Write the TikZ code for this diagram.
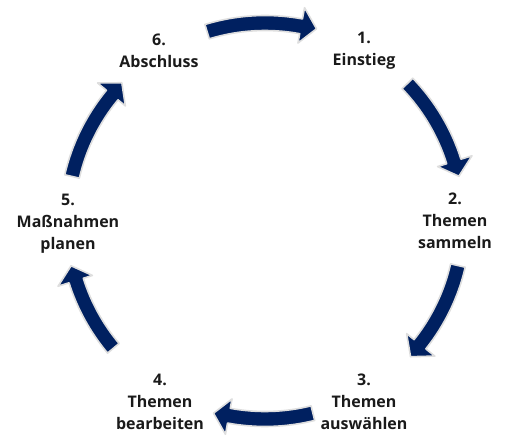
\documentclass[tikz,border=0pt]{standalone}
\usepackage{fontspec}
\setmainfont{Open Sans}
\usepackage{tikz}
\usetikzlibrary{positioning}

\definecolor{navy}{HTML}{002060}
\definecolor{labelgray}{HTML}{1A1A1A}

% curved arrow on the circle: tail angle, tip angle
\newcommand{\cyclearrow}[2]{%
  \filldraw[bigarrow] (#1:205.5) arc[start angle=#1, end angle=#2+4.5, radius=205.5]
    -- (#2+4.5:217) -- (#2:199) -- (#2+4.5:181) -- (#2+4.5:190.5)
    arc[start angle=#2+4.5, end angle=#1, radius=190.5] -- cycle;}

\begin{document}
\begin{tikzpicture}
[x=1pt, y=1pt,
 stage/.style={font=\fontsize{16}{22}\selectfont\bfseries, align=center, text=labelgray, inner sep=0pt},
 bigarrow/.style={fill=navy, draw=black!13, line width=1.6pt, line join=round}]
\useasboundingbox (-265, -220) rectangle (240, 221);

\node[stage] (einstieg) at (99, 170) {1.\\Einstieg};
\node[stage] (sammeln) at (190, 0) {2.\\Themen\\sammeln};
\node[stage] (auswaehlen) at (99, -181) {3.\\Themen\\auswählen};
\node[stage] (bearbeiten) at (-105, -181) {4.\\Themen\\bearbeiten};
\node[stage] (planen) at (-197, -3) {5.\\Maßnahmen\\planen};
\node[stage] (abschluss) at (-106, 170) {6.\\Abschluss};

\cyclearrow{107}{75}
\cyclearrow{44}{13}
\cyclearrow{-13}{-43}
\cyclearrow{-76}{-105}
\cyclearrow{-140}{-167}
\cyclearrow{167}{136}
\end{tikzpicture}
\end{document}
